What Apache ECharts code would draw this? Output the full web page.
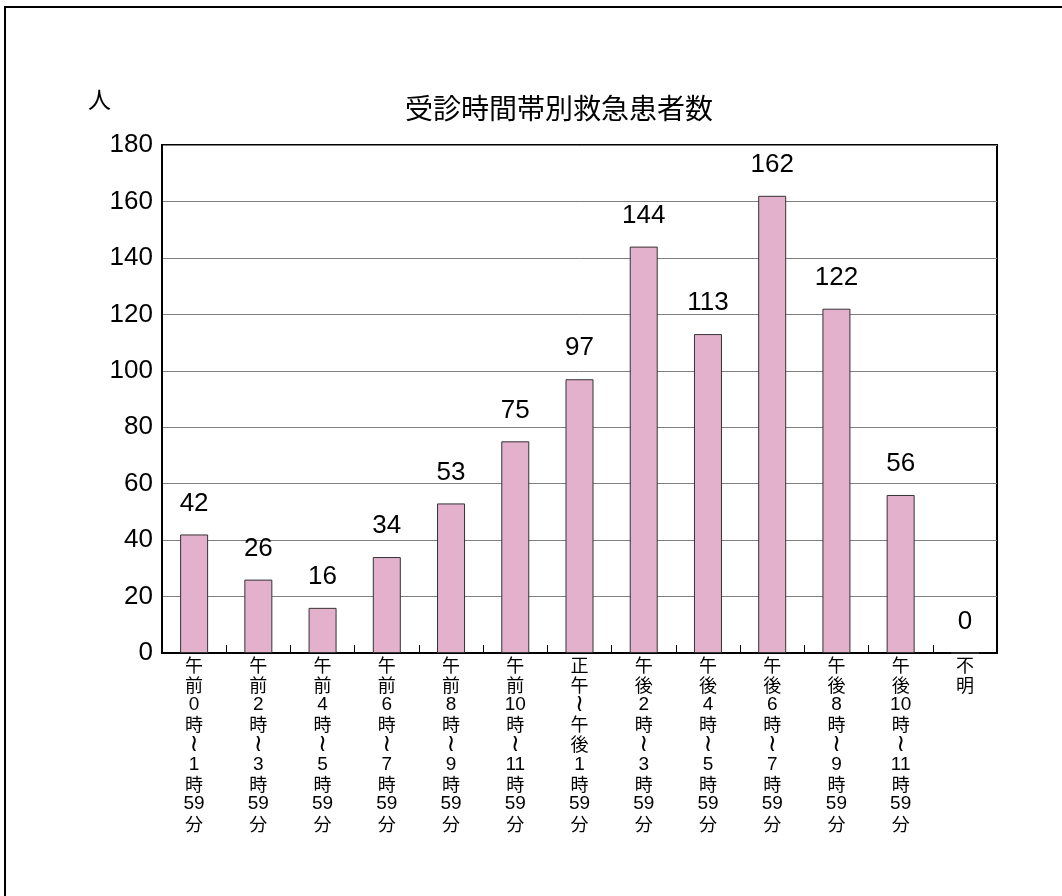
<!DOCTYPE html>
<html><head><meta charset="utf-8">
<script src="https://cdn.jsdelivr.net/npm/echarts@6/dist/echarts.min.js"></script>
<style>html,body{margin:0;padding:0;background:#fff}#c{width:1062px;height:896px}</style>
</head><body><div id="c"></div>
<script>
const categories = ["午前0時～1時59分","午前2時～3時59分","午前4時～5時59分","午前6時～7時59分","午前8時～9時59分","午前10時～11時59分","正午～午後1時59分","午後2時～3時59分","午後4時～5時59分","午後6時～7時59分","午後8時～9時59分","午後10時～11時59分","不明"];
const patients = [42,26,16,34,53,75,97,144,113,162,122,56,0];
const yTicks = [0,20,40,60,80,100,120,140,160,180];
const title = "受診時間帯別救急患者数";
const unit = "人";

function vertical(s){
  const toks = s.match(/[0-9]+|./g) || [];
  return toks.map(t => t === "～" ? "{t|≀}" : (/^[0-9]+$/.test(t) ? "{d|" + t + "}" : t)).join("\n");
}
const NUMFONT = "'Liberation Sans',sans-serif";
const LH = 19.9;
const chart = echarts.init(document.getElementById('c'));
chart.setOption({
  animation:false,
  graphic:[
    {type:'rect',shape:{x:5,y:7,width:1100,height:950},style:{fill:'none',stroke:'#000',lineWidth:2},silent:true},
    {type:'text',left:88,top:88,style:{text:unit,font:"23px 'Noto Sans CJK JP'",fill:'#000'}}
  ],
  title:{text:title,left:400,top:89,textStyle:{fontFamily:"'Noto Sans CJK JP'",fontSize:28,fontWeight:'normal',color:'#000'}},
  grid:{left:162,right:65,top:145,bottom:243,show:true,borderColor:'#000',borderWidth:2,backgroundColor:'transparent'},
  xAxis:{type:'category',data:categories,
    axisLine:{lineStyle:{color:'#000',width:2}},
    axisTick:{show:true,inside:true,length:8,lineStyle:{color:'#000',width:1}},
    axisLabel:{interval:0,margin:2,formatter:v=>vertical(v),fontSize:18,lineHeight:LH,color:'#000',fontFamily:"'Noto Sans CJK JP'",
      rich:{t:{fontFamily:"'DejaVu Sans'",fontSize:24,lineHeight:LH},d:{fontFamily:NUMFONT,fontSize:19,lineHeight:LH}}}
  },
  yAxis:{type:'value',min:0,max:180,interval:20,
    axisLine:{show:true,lineStyle:{color:'#000',width:2}},
    axisTick:{show:false},
    axisLabel:{fontSize:26,color:'#000',margin:9,fontFamily:NUMFONT,formatter:v=>yTicks.includes(v)?String(v):''},
    splitLine:{lineStyle:{color:'#7f7f7f',width:1}}
  },
  series:[{type:'bar',data:patients,barWidth:28,
    itemStyle:{color:'#e4b1cc',borderColor:'#333',borderWidth:1},
    label:{show:true,position:'top',distance:18,fontSize:26,color:'#000',fontFamily:NUMFONT}
  }]
});
</script></body></html>
